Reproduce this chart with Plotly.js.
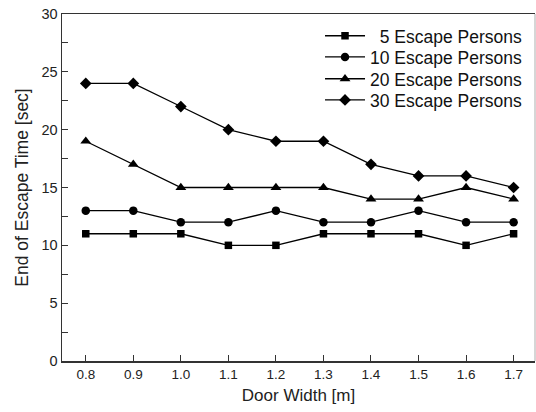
<!DOCTYPE html>
<html>
<head>
<meta charset="utf-8">
<script src="https://cdn.plot.ly/plotly-3.0.1.min.js"></script>
<style>html,body{margin:0;padding:0;background:#fff;}#chart{width:536px;height:412px;}</style>
</head>
<body>
<div id="chart"></div>
<script>
const doorWidth = [0.8, 0.9, 1.0, 1.1, 1.2, 1.3, 1.4, 1.5, 1.6, 1.7];
const persons5  = [11, 11, 11, 10, 10, 11, 11, 11, 10, 11];
const persons10 = [13, 13, 12, 12, 13, 12, 12, 13, 12, 12];
const persons20 = [19, 17, 15, 15, 15, 15, 14, 14, 15, 14];
const persons30 = [24, 24, 22, 20, 19, 19, 17, 16, 16, 15];
const seriesNames = ['\u00a0\u00a05 Escape Persons', '10 Escape Persons', '20 Escape Persons', '30 Escape Persons'];
const xTickVals = [0.8, 0.9, 1.0, 1.1, 1.2, 1.3, 1.4, 1.5, 1.6, 1.7];
const xTickText = ['0.8', '0.9', '1.0', '1.1', '1.2', '1.3', '1.4', '1.5', '1.6', '1.7'];

const symbols = ['square', 'circle', 'triangle-up', 'diamond'];
const sizes = [7.5, 8.5, 9.5, 9];
const legendIds = ['legend', 'legend2', 'legend3', 'legend4'];
const legendRowsY = [0.937, 0.876, 0.813, 0.752];

const data = [persons5, persons10, persons20, persons30].map((ys, i) => ({
  x: doorWidth, y: ys, name: seriesNames[i], type: 'scatter', mode: 'lines+markers',
  legend: legendIds[i],
  line: {color: '#000', width: 1.3},
  marker: {symbol: symbols[i], size: sizes[i], color: '#000'}
}));

const layout = {
  width: 536, height: 412,
  margin: {l: 62, r: 1, t: 14, b: 51},
  paper_bgcolor: '#fff', plot_bgcolor: '#fff',
  font: {family: 'Liberation Sans, Arial, sans-serif', color: '#222'},
  showlegend: true,
  xaxis: {
    range: [0.75, 1.745], tickvals: xTickVals, ticktext: xTickText,
    ticks: 'inside', ticklen: 6, tickcolor: '#333', showgrid: false, zeroline: false,
    showline: true, linecolor: '#333', linewidth: 1.5, mirror: true,
    tickfont: {size: 13.5, color: '#222'},
    title: {text: 'Door Width [m]', font: {size: 17, color: '#222'}, standoff: 8}
  },
  yaxis: {
    range: [0, 30], tickvals: [0, 5, 10, 15, 20, 25, 30],
    ticks: 'inside', ticklen: 6, tickcolor: '#333', showgrid: false, zeroline: false,
    showline: true, linecolor: '#333', linewidth: 1.5, mirror: false,
    minor: {dtick: 2.5, tick0: 0, ticks: 'inside', ticklen: 6, tickcolor: '#333', showgrid: false},
    tickfont: {size: 14.5, color: '#222'},
    title: {text: 'End of Escape Time [sec]', font: {size: 17.5, color: '#222'}, standoff: 8}
  },
  shapes: [{type: 'line', xref: 'paper', yref: 'paper', x0: 1, x1: 1, y0: 0, y1: 1,
            line: {color: '#bbbbbb', width: 1.2}}]
};
legendIds.forEach((id, i) => {
  layout[id] = {x: 0.5455, y: legendRowsY[i], xanchor: 'left', yanchor: 'middle',
    bgcolor: 'rgba(0,0,0,0)', font: {size: 17.5, color: '#111'}, itemwidth: 40};
});

Plotly.newPlot('chart', data, layout, {displayModeBar: false, staticPlot: true});
</script>
</body>
</html>
